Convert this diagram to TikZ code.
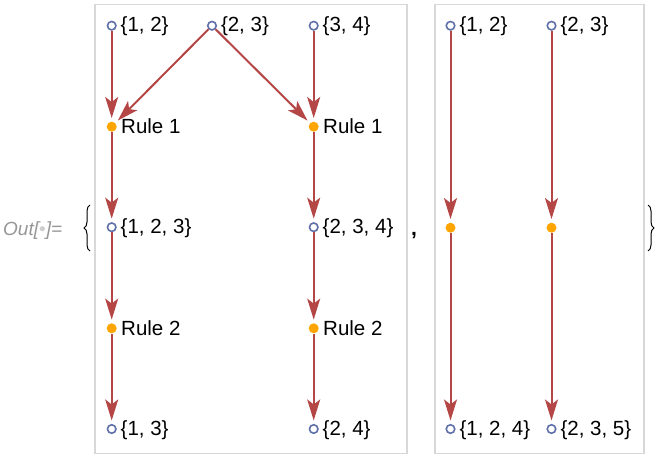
\documentclass[tikz,border=0pt]{standalone}
\usepackage{fontspec}
\setmainfont{Liberation Sans}
\usetikzlibrary{arrows.meta,decorations.pathreplacing}
\definecolor{edgec}{RGB}{180,70,70}
\definecolor{vcol}{RGB}{96,112,168}
\definecolor{evc}{RGB}{255,165,0}
\definecolor{framec}{RGB}{216,216,216}
\definecolor{outc}{RGB}{150,150,150}
\definecolor{dotc}{RGB}{205,205,205}
\begin{document}
\begin{tikzpicture}[x=1pt,y=-1pt,
  vert/.style={circle,draw=vcol,fill=white,line width=1.6pt,inner sep=0pt,minimum size=8.5pt},
  evt/.style={circle,fill=evc,inner sep=0pt,minimum size=10pt},
  lab/.style={anchor=base west,inner sep=0pt,font=\fontsize{20.5}{22}\selectfont},
  edge/.style={draw=edgec,line width=2pt,-{Stealth[length=21pt,width=13pt,inset=5pt]},shorten >=3.5pt},
  panel/.style={draw=framec,line width=1.8pt}]
\useasboundingbox (0,0) rectangle (661,456);
% frames
\node[panel,inner sep=0pt,minimum width=312pt,minimum height=449pt,anchor=north west] (p1) at (94,3.5) {};
\node[panel,inner sep=0pt,minimum width=209pt,minimum height=449pt,anchor=north west] (p2) at (434,3.5) {};
% panel 1 vertices
\node[vert] (a12) at (111.7,25.7) {};
\node[vert] (a23) at (212,25.7) {};
\node[vert] (a34) at (313.7,25.7) {};
\node[evt] (r1a) at (111.7,126.7) {};
\node[evt] (r1b) at (313.7,126.7) {};
\node[vert] (a123) at (111.7,227.2) {};
\node[vert] (a234) at (313.7,227.2) {};
\node[evt] (r2a) at (111.7,328.3) {};
\node[evt] (r2b) at (313.7,328.3) {};
\node[vert] (a13) at (111.7,429) {};
\node[vert] (a24) at (313.7,429) {};
% panel 2 vertices
\node[vert] (b12) at (450.5,25.7) {};
\node[vert] (b23) at (551.5,25.7) {};
\node[evt] (ea) at (450.5,227.7) {};
\node[evt] (eb) at (551.5,227.7) {};
\node[vert] (b124) at (450.5,429) {};
\node[vert] (b235) at (551.5,429) {};
% edges
\draw[edge] (a12) -- (r1a);
\draw[edge] (a23) -- (r1a);
\draw[edge] (a23) -- (r1b);
\draw[edge] (a34) -- (r1b);
\draw[edge] (r1a) -- (a123);
\draw[edge] (r1b) -- (a234);
\draw[edge] (a123) -- (r2a);
\draw[edge] (a234) -- (r2b);
\draw[edge] (r2a) -- (a13);
\draw[edge] (r2b) -- (a24);
\draw[edge] (b12) -- (ea);
\draw[edge] (b23) -- (eb);
\draw[edge] (ea) -- (b124);
\draw[edge] (eb) -- (b235);
% labels
\node[lab] (la12) at (120.5,31.8) {\{1, 2\}};
\node[lab] (la23) at (220.8,31.8) {\{2, 3\}};
\node[lab] (la34) at (322.5,31.8) {\{3, 4\}};
\node[lab] (lr1a) at (121,133.5) {Rule 1};
\node[lab] (lr1b) at (323,133.5) {Rule 1};
\node[lab] (la123) at (120.5,233.2) {\{1, 2, 3\}};
\node[lab] (la234) at (322.5,233.2) {\{2, 3, 4\}};
\node[lab] (lr2a) at (121,335) {Rule 2};
\node[lab] (lr2b) at (323,335) {Rule 2};
\node[lab] (la13) at (120.5,435) {\{1, 3\}};
\node[lab] (la24) at (322.5,435) {\{2, 4\}};
\node[lab] (lb12) at (459.3,31.8) {\{1, 2\}};
\node[lab] (lb23) at (560.3,31.8) {\{2, 3\}};
\node[lab] (lb124) at (459.3,435) {\{1, 2, 4\}};
\node[lab] (lb235) at (560.3,435) {\{2, 3, 5\}};
% Out label, braces, comma
\node[anchor=base west,inner sep=0pt,text=outc,font=\fontsize{19}{21}\selectfont\itshape] (out) at (3,235.5) {Out[\textcolor{dotc}{\upshape•}]=};
\coordinate (lb1) at (90,251);
\coordinate (lb2) at (90,205);
\draw[line width=1pt,decorate,decoration={brace,amplitude=6pt}] (lb1) -- (lb2);
\coordinate (rb1) at (648,205);
\coordinate (rb2) at (648,251);
\draw[line width=1pt,decorate,decoration={brace,amplitude=6pt}] (rb1) -- (rb2);
\node[anchor=base west,inner sep=0pt,font=\fontsize{21}{23}\selectfont\bfseries] (comma) at (411,235) {,};
\end{tikzpicture}
\end{document}
